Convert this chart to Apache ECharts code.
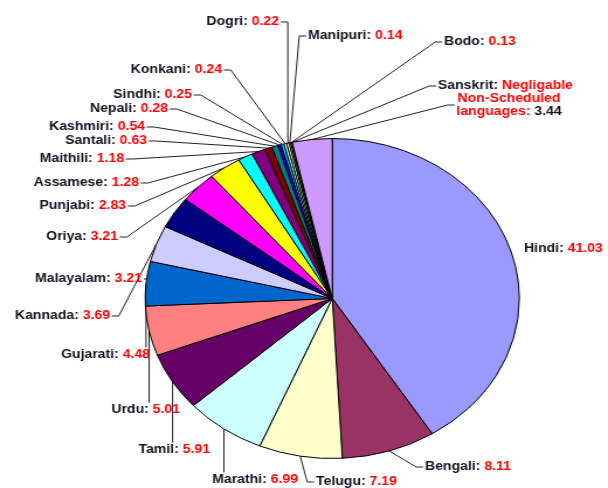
<!DOCTYPE html>
<html>
<head>
<meta charset="utf-8">
<script src="https://cdn.jsdelivr.net/npm/echarts@6/dist/echarts.min.js"></script>
<style>
  html, body { margin: 0; padding: 0; background: #fff; overflow: hidden; }
  #wrap { width: 608px; height: 488px; overflow: hidden; position: relative; }
  #chart { width: 520px; height: 488px; transform: scaleX(1.1692); transform-origin: 0 0; }
</style>
</head>
<body>
<div id="wrap"><div id="chart"></div></div>
<script>
const categories = ['Hindi', 'Bengali', 'Telugu', 'Marathi', 'Tamil', 'Urdu', 'Gujarati', 'Kannada',
  'Malayalam', 'Oriya', 'Punjabi', 'Assamese', 'Maithili', 'Santali', 'Kashmiri', 'Nepali',
  'Sindhi', 'Konkani', 'Dogri', 'Manipuri', 'Bodo', 'Sanskrit', 'Non-Scheduled languages'];
const values = [41.03, 8.11, 7.19, 6.99, 5.91, 5.01, 4.48, 3.69, 3.21, 3.21, 2.83, 1.28, 1.18,
  0.63, 0.54, 0.28, 0.25, 0.24, 0.22, 0.14, 0.13, 0, 3.44];
const colors = ['#9999FF', '#993366', '#FFFFCC', '#CCFFFF', '#660066', '#FF8080', '#0066CC', '#CCCCFF',
  '#000080', '#FF00FF', '#FFFF00', '#00FFFF', '#800080', '#800000', '#008080', '#0000FF',
  '#00CCFF', '#CCFFFF', '#CCFFCC', '#FFFF99', '#99CCFF', '#FF99CC', '#CC99FF'];

// Layout (not data): the picture is a circular pie stretched horizontally by S.
const S = 1.1692;
// Label anchor placement in picture pixels: [x, y, align]
const labelPlacement = [
  [524, 249, 'left'], [425, 467, 'left'], [316, 482, 'left'], [298, 480, 'right'],
  [210, 450, 'right'], [180, 410, 'right'], [150, 355, 'right'], [110, 316, 'right'],
  [142, 279, 'right'], [118, 237, 'right'], [126, 206, 'right'], [139, 183, 'right'],
  [124, 159, 'right'], [147, 141, 'right'], [145, 127, 'right'], [168, 109, 'right'],
  [192, 95, 'right'], [222, 70, 'right'], [279, 22, 'right'], [308, 36, 'left'],
  [444, 42, 'left'], [438, 86, 'left'], [509, 105, 'center']
];

const FONT = 'Arial, "Liberation Sans", sans-serif';
const data = categories.map((name, i) => {
  const item = { name: name, value: values[i], itemStyle: { color: colors[i] } };
  if (name === 'Hindi') item.labelLine = { show: false };
  return item;
});

const chart = echarts.init(document.getElementById('chart'), null, { renderer: 'canvas' });
chart.setOption({
  animation: false,
  backgroundColor: '#fff',
  series: [{
    type: 'pie',
    center: [284.2, 298.5],
    radius: [0, 160],
    startAngle: 90,
    clockwise: true,
    data: data,
    itemStyle: { borderColor: '#000', borderWidth: 1 },
    label: {
      show: true,
      position: 'outside',
      bleedMargin: 0,
      overflow: 'none',
      fontFamily: FONT,
      formatter: function (p) {
        if (p.name === 'Sanskrit') return '{n|Sanskrit: }{v|Negligable}';
        if (p.name === 'Non-Scheduled languages') {
          return '{v|Non-Scheduled}\n{v|languages: }{n|' + p.value + '}';
        }
        return '{n|' + p.name + ': }{v|' + p.value + '}';
      },
      rich: {
        n: { color: '#111122', fontWeight: 'bold', fontSize: 12, fontFamily: FONT, lineHeight: 13 },
        v: { color: '#FF0000', fontWeight: 'bold', fontSize: 12, fontFamily: FONT, lineHeight: 13 }
      }
    },
    labelLine: {
      show: true,
      length: 1,
      length2: 1,
      lineStyle: { color: '#222', width: 1 }
    },
    labelLayout: function (params) {
      const pl = labelPlacement[params.dataIndex];
      const x = pl[0] / S, y = pl[1], align = pl[2];
      const w = params.labelRect.width, h = params.labelRect.height;
      const left = align === 'left' ? x : (align === 'right' ? x - w : x - w / 2);
      const right = left + w;
      const top = y - h / 2, bottom = y + h / 2;
      const out = { x: x, y: y, align: align, verticalAlign: 'middle' };
      const pts = params.labelLinePoints;
      if (pts && pts.length) {
        const p = pts[0];
        const gap = 1.5, stub = 6;
        let line;
        if (p[0] > right + 2) {
          line = [[p[0], p[1]], [right + gap + stub, y], [right + gap, y]];
        } else if (p[0] < left - 2) {
          line = [[p[0], p[1]], [left - gap - stub, y], [left - gap, y]];
        } else if (p[1] < top) {
          line = [[p[0], p[1]], [p[0], top - gap], [p[0], top - gap]];
        } else {
          line = [[p[0], p[1]], [p[0], bottom + gap], [p[0], bottom + gap]];
        }
        out.labelLinePoints = line;
      }
      return out;
    }
  }]
});
</script>
</body>
</html>
